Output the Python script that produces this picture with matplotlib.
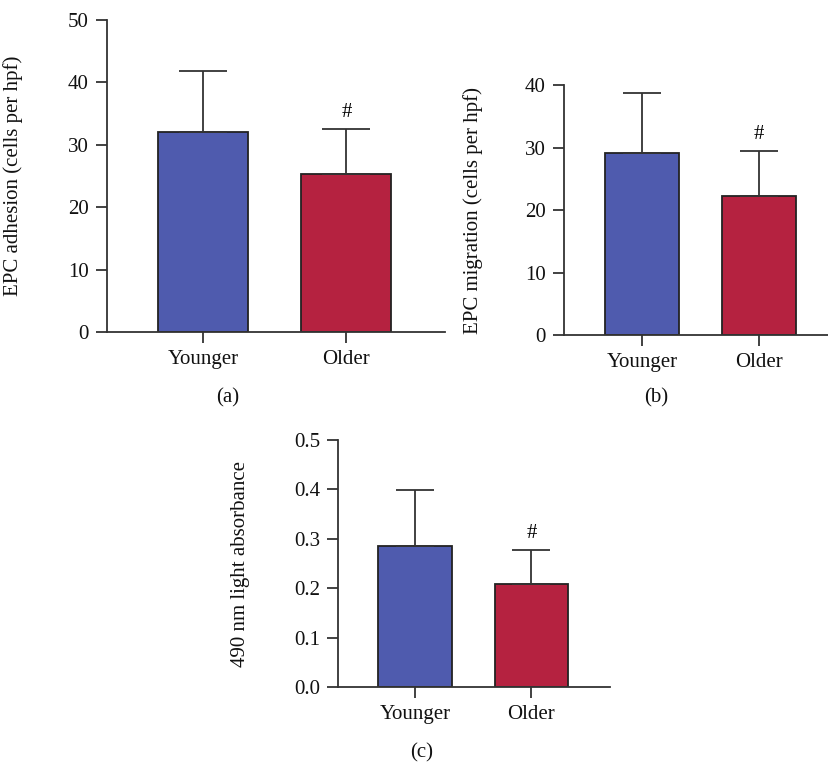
import matplotlib
matplotlib.use("Agg")
import matplotlib.pyplot as plt

plt.rcParams['font.family'] = ['Liberation Serif', 'DejaVu Serif']

groups = ["Younger", "Older"]
adhesion_mean = [32.0, 25.3]
adhesion_err = [9.8, 7.2]
migration_mean = [29.1, 22.3]
migration_err = [9.6, 7.2]
absorb_mean = [0.285, 0.208]
absorb_err = [0.114, 0.070]

colors = ["#4F5BAE", "#B52240"]
edge = "#222222"
axc = "#333333"
fs = 15

fig = plt.figure(figsize=(8.29, 7.65), dpi=100)

def panel(rect, means, errs, ylim, yticks, yfmt, ylabel, xlim, lab_x, letter, letter_y, cap):
    ax = fig.add_axes(rect)
    x = list(range(len(groups)))
    ax.bar(x, means, width=0.63, color=colors, edgecolor=edge, linewidth=1.3, zorder=2)
    ax.errorbar(x, means, yerr=[[0]*len(errs), errs], fmt='none', ecolor=axc,
                elinewidth=1.3, capsize=cap, capthick=1.3, zorder=3)
    ax.annotate('#', (1, means[1] + errs[1]), xytext=(0, 5), textcoords='offset points',
                ha='center', va='bottom', fontsize=fs)
    ax.set_xlim(*xlim)
    ax.set_ylim(*ylim)
    ax.set_yticks(yticks)
    ax.set_yticklabels([yfmt.format(v) for v in yticks])
    ax.set_xticks(x)
    ax.set_xticklabels(groups)
    for s in ['top', 'right']:
        ax.spines[s].set_visible(False)
    for s in ['left', 'bottom']:
        ax.spines[s].set_color(axc)
        ax.spines[s].set_linewidth(1.3)
    ax.tick_params(axis='both', colors=axc, labelcolor='#111111', length=8, width=1.3,
                   labelsize=fs, pad=5)
    ax.set_ylabel(ylabel, fontsize=fs, color='#111111')
    ax.yaxis.set_label_coords(lab_x, 0.5)
    fig.text(letter[0], letter_y, letter[1], ha='center', va='center', fontsize=fs, color='#111111')
    return ax

# panel a
panel([0.129, 0.566, 0.408, 0.408], adhesion_mean, adhesion_err, (0, 50), [0, 10, 20, 30, 40, 50],
      "{:.0f}", "EPC adhesion (cells per hpf)", (-0.671, 1.69), -0.249, (228/829, "(a)"), 1 - 398/765, 17)
# panel b
panel([0.680, 0.5617, 0.320, 0.327], migration_mean, migration_err, (0, 40), [0, 10, 20, 30, 40],
      "{:.0f}", "EPC migration (cells per hpf)", (-0.667, 1.598), -0.306, (656/829, "(b)"), 1 - 398/765, 14)
# panel c
panel([0.408, 0.1015, 0.3277, 0.3233], absorb_mean, absorb_err, (0, 0.5), [0, 0.1, 0.2, 0.3, 0.4, 0.5],
      "{:.1f}", "490 nm light absorbance", (-0.658, 1.674), -0.325, (421.7/829, "(c)"), 1 - 753/765, 14)

fig.savefig("out.png", dpi=100)
